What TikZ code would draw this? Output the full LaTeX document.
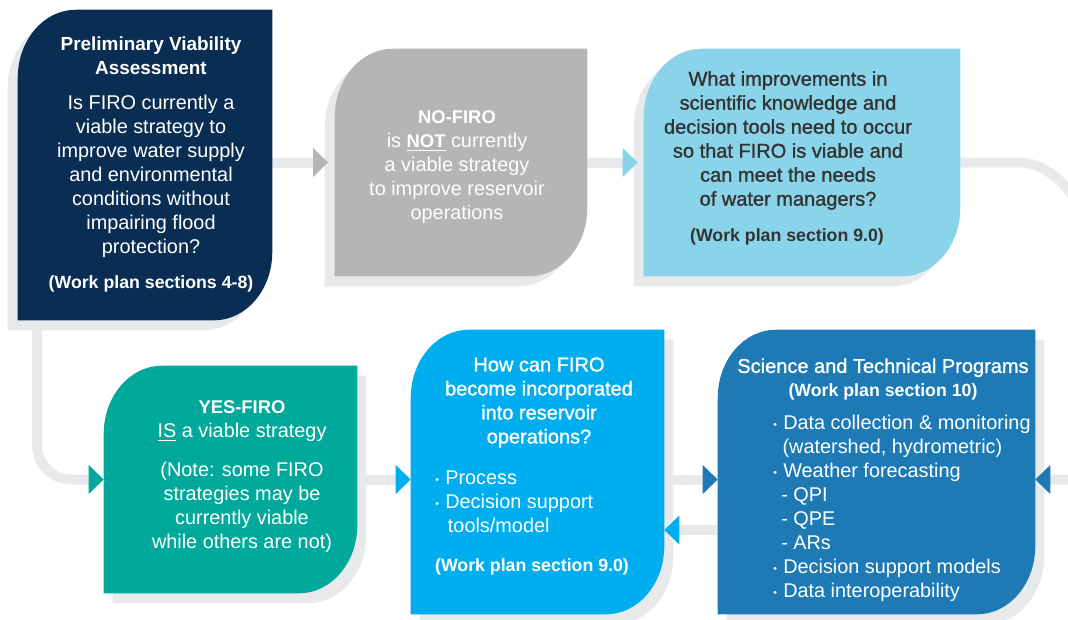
\documentclass[tikz,border=0pt]{standalone}
\usepackage{fontspec}
\setmainfont{Liberation Sans}
\newfontfamily\mediumfont[FakeBold=1.2]{Liberation Sans}
\definecolor{FiroNavy} {RGB}{9,45,83}
\definecolor{FiroGray} {RGB}{180,181,183}
\definecolor{FiroSky}  {RGB}{138,212,234}
\definecolor{FiroTeal} {RGB}{0,169,155}
\definecolor{FiroBlue} {RGB}{0,174,239}
\definecolor{FiroSteel}{RGB}{30,122,180}
\definecolor{FiroLine} {RGB}{232,233,234}
\definecolor{FiroInk}  {RGB}{51,51,51}
\usetikzlibrary{arrows.meta,calc,fit}

% leaf shaped box: round top-left and bottom-right corners
\newcommand\leaf[3]{%
  \fill[#2] let \p1=([shift={#3}]#1.north west), \p2=([shift={#3}]#1.south east) in
    (\x1,\y1-51pt) .. controls (\x1,\y1-23pt) and (\x1+19.5pt,\y1) .. (\x1+43.5pt,\y1)
    -- (\x2,\y1) -- (\x2,\y2+51pt)
    .. controls (\x2,\y2+23pt) and (\x2-19.5pt,\y2) .. (\x2-43.5pt,\y2)
    -- (\x1,\y2) -- cycle;}
\newcommand\itm{\makebox[7.5pt][l]{\raisebox{1pt}{\footnotesize\textbullet}}}
\newcommand\wpfont{\fontsize{13.3}{18}\selectfont\bfseries}
\newcommand\medfont{\mediumfont\fontsize{15}{18}\selectfont}
\newcommand\hdfont{\fontsize{13.8}{18}\selectfont\bfseries}

\begin{document}
\begin{tikzpicture}[x=0.75pt,y=-0.75pt,
    every node/.style={font=\fontsize{14.9}{18}\selectfont},
    box/.style={inner sep=0pt},
    txt/.style={align=center,inner sep=0pt,text=white},
    lst/.style={align=left,inner sep=0pt,text=white,anchor=west},
    link/.style={line width=7.5pt,draw=FiroLine},
    headto/.style={-{Triangle[length=11.25pt,width=21pt,color=#1]}}]
  \useasboundingbox (0,0) rectangle (1068,619);
  \clip (0,0) rectangle (1068,619);

  % box outlines
  \node[box,fit={(18,10)(272,320)}] (pva) {};
  \node[box,fit={(335,49)(587,276)}] (nofiro) {};
  \node[box,fit={(644,49)(960,276)}] (improve) {};
  \node[box,fit={(104,366)(357,593)}] (yesfiro) {};
  \node[box,fit={(411,330)(664,614)}] (incorp) {};
  \node[box,fit={(718,330)(1035,614)}] (science) {};

  % shadows
  \foreach \b in {pva,nofiro,improve} \leaf{\b}{FiroLine}{(-10,10)};
  \foreach \b in {yesfiro,incorp,science} \leaf{\b}{FiroLine}{(9,10)};

  % connectors
  \coordinate (drop) at (37,480);
  \coordinate (turn) at (1003,0);
  \coordinate (loop) at (1098,285);
  \coordinate (back) at (690,530);
  \draw[link,headto=FiroGray,shorten >=5pt] (pva.east |- nofiro.west) -- (nofiro.west);
  \draw[link,headto=FiroSky,shorten >=4.5pt] (nofiro.east) -- (improve.west);
  \draw[link,headto=FiroTeal,rounded corners=26pt] (drop |- pva.south) -- (drop |- yesfiro.west) -- (yesfiro.west);
  \draw[link,headto=FiroBlue] (yesfiro.east) -- (incorp.west |- yesfiro.east);
  \draw[link,headto=FiroSteel] (incorp.east |- yesfiro.east) -- (science.west |- yesfiro.east);
  \draw[link,headto=FiroBlue] (science.west |- back) -- (incorp.east |- back);
  \draw[link,headto=FiroSteel,rounded corners=12pt] (improve.east) -- (improve.east -| turn)
    to[out=0,in=90] (loop) -- (loop |- yesfiro.east) -- (science.east |- yesfiro.east);

  % boxes
  \leaf{pva}{FiroNavy}{(0,0)}
  \leaf{nofiro}{FiroGray}{(0,0)}
  \leaf{improve}{FiroSky}{(0,0)}
  \leaf{yesfiro}{FiroTeal}{(0,0)}
  \leaf{incorp}{FiroBlue}{(0,0)}
  \leaf{science}{FiroSteel}{(0,0)}

  % texts
  \node[txt,font=\fontsize{14.2}{18}\selectfont\bfseries] (pvatitle) at (151,56) {Preliminary Viability\\Assessment};
  \node[txt] (pvabody) at (151,176) {Is FIRO currently a\\viable strategy to\\improve water supply\\and environmental\\conditions without\\impairing flood\\protection?};
  \node[txt,font=\wpfont] (pvawp) at (151,284) {(Work plan sections 4-8)};

  \node[txt] (notext) at (457,167.5) {{\hdfont NO-FIRO}\\is \underline{\hdfont NOT} currently\\a viable strategy\\to improve reservoir\\operations};

  \node[txt,text=FiroInk,font=\medfont] (imptext) at (788,140.5)
    {What improvements in\\scientific knowledge and\\decision tools need to occur\\so that FIRO is viable and\\can meet the needs\\of water managers?};
  \node[txt,text=FiroInk,font=\wpfont] (impwp) at (787,237) {(Work plan section 9.0)};

  \node[txt] (yestitle) at (242,421.5) {{\hdfont YES-FIRO}\\\underline{IS} a viable strategy};
  \node[txt] (yesnote) at (242,507.5) {(Note: some FIRO\\strategies may be\\currently viable\\while others are not)};

  \node[txt,font=\medfont] (inctitle) at (539,402.5) {How can FIRO\\become incorporated\\into reservoir\\operations?};
  \node[lst] (inclist) at (435,502) {\itm Process\\\itm Decision support\\\hspace*{9.5pt}tools/model};
  \node[txt,font=\wpfont] (incwp) at (532,567) {(Work plan section 9.0)};

  \node[txt] (scititle) at (883,379.5) {{\medfont Science and Technical Programs}\\{\wpfont (Work plan section 10)}};
  \node[lst] (scilist) at (773,508.5) {\itm Data collection \& monitoring\\\hspace*{7pt}(watershed, hydrometric)\\\itm Weather forecasting\\\hspace*{6pt}- QPI\\\hspace*{6pt}- QPE\\\hspace*{6pt}- ARs\\\itm Decision support models\\\itm Data interoperability};
\end{tikzpicture}
\end{document}
